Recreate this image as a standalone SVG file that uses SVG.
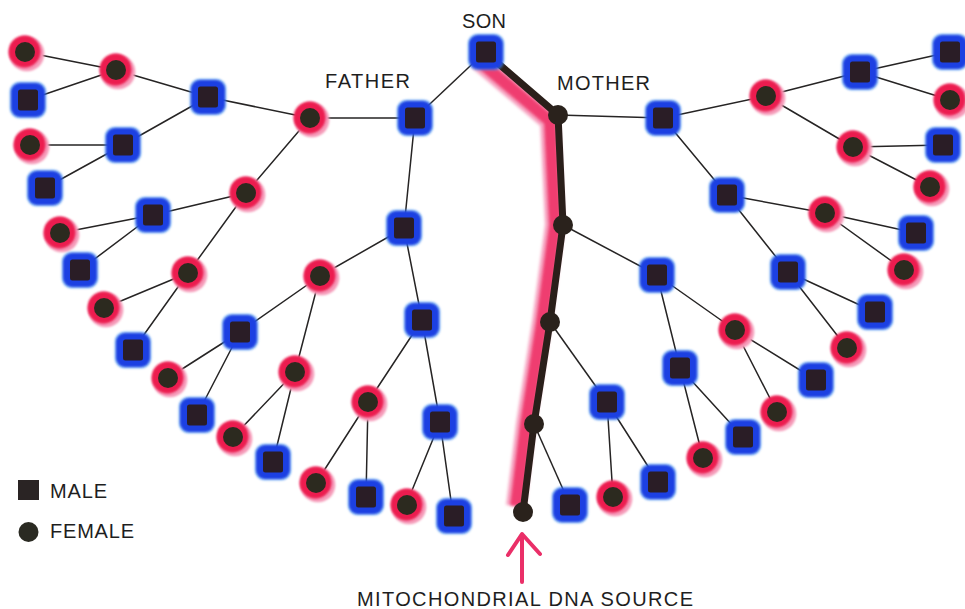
<svg xmlns="http://www.w3.org/2000/svg" xmlns:xlink="http://www.w3.org/1999/xlink" width="965" height="609" viewBox="0 0 965 609">
<style>
.lbl{font-family:"Liberation Sans",Arial,sans-serif;font-size:20px;fill:#1e1e1e}
.ln{fill:none;stroke:#262424;stroke-width:1.5;stroke-linejoin:round}
</style>
<defs>
<filter id="soft" x="-50%" y="-50%" width="200%" height="200%"><feGaussianBlur stdDeviation="0.9"/></filter>
<filter id="soft2" x="-20%" y="-20%" width="140%" height="140%"><feGaussianBlur stdDeviation="1.5"/></filter>
<g id="M">
<rect x="-18.5" y="-18.5" width="37" height="37" rx="10" fill="#4a98f2" opacity="0.55" filter="url(#soft)"/>
<rect x="-17" y="-17" width="34" height="34" rx="9" fill="#1a40e2" filter="url(#soft)"/>
<rect x="-10" y="-10.5" width="20" height="21" rx="2.5" fill="#2a1d26"/>
</g>
<g id="F">
<circle cx="1.8" cy="1.8" r="17.5" fill="#f59ab8" filter="url(#soft)"/>
<circle cx="-0.5" cy="-0.5" r="16" fill="#ec1b4f" filter="url(#soft)"/>
<circle r="10" fill="#2c2a1f"/>
</g>
<g id="Fm">
<circle r="10" fill="#2a221c"/>
</g>
</defs>
<rect width="965" height="609" fill="#ffffff"/>

<g id="mtdna-line">
<polyline points="478,60 550,121 555,225 542,322 526,424 516,506" fill="none" stroke="#f7a6c2" stroke-width="20" stroke-linejoin="round" filter="url(#soft2)"/>
<polyline points="478,60 550,121 555,225 542,322 526,424 516,506" fill="none" stroke="#ef3d70" stroke-width="12" stroke-linejoin="round" filter="url(#soft2)"/>
</g>

<g id="connectors">
<path class="ln" d="M485,52 L415,118"/>
<path class="ln" d="M310,118 L415,118 L404,228"/>
<path class="ln" d="M208,97 L310,118 L246,193"/>
<path class="ln" d="M320,276 L404,228 L422,320"/>
<path class="ln" d="M116,70 L208,97 L123,145"/>
<path class="ln" d="M153,215 L246,193 L188,273"/>
<path class="ln" d="M240,332 L320,276 L295,372"/>
<path class="ln" d="M368,402 L422,320 L440,422"/>
<path class="ln" d="M25,52 L116,70 L28,100"/>
<path class="ln" d="M30,145 L123,145 L45,188"/>
<path class="ln" d="M60,233 L153,215 L80,270"/>
<path class="ln" d="M104,308 L188,273 L133,350"/>
<path class="ln" d="M168,378 L240,332 L197,415"/>
<path class="ln" d="M233,437 L295,372 L273,462"/>
<path class="ln" d="M316,483 L368,402 L366,497"/>
<path class="ln" d="M406,505 L440,422 L453,515"/>
<path class="ln" d="M558,115 L663,118"/>
<path class="ln" d="M766,96 L663,118 L727,195"/>
<path class="ln" d="M563,225 L657,275"/>
<path class="ln" d="M550,322 L607,402"/>
<path class="ln" d="M534,424 L570,505"/>
<path class="ln" d="M860,72 L766,96 L853,147"/>
<path class="ln" d="M825,213 L727,195 L788,272"/>
<path class="ln" d="M735,330 L657,275 L680,368"/>
<path class="ln" d="M950,52 L860,72 L950,100"/>
<path class="ln" d="M943,145 L853,147 L930,187"/>
<path class="ln" d="M916,233 L825,213 L904,270"/>
<path class="ln" d="M875,312 L788,272 L847,348"/>
<path class="ln" d="M816,380 L735,330 L777,412"/>
<path class="ln" d="M743,437 L680,368 L703,458"/>
<path class="ln" d="M658,482 L607,402 L613,497"/>
<polyline points="485,52 558,115 563,225 550,322 534,424 523,512" fill="none" stroke="#2a1f1a" stroke-width="7" stroke-linejoin="round"/>
</g>

<g id="son"><use xlink:href="#M" x="486" y="52"/></g>
<g id="father"><use xlink:href="#M" x="415" y="118"/></g>
<g id="mother"><use xlink:href="#Fm" x="558" y="115"/></g>

<g id="p-310-118"><use xlink:href="#F" x="310" y="118"/></g>
<g id="p-404-228"><use xlink:href="#M" x="404" y="228"/></g>
<g id="p-208-97"><use xlink:href="#M" x="208" y="97"/></g>
<g id="p-246-193"><use xlink:href="#F" x="246" y="193"/></g>
<g id="p-320-276"><use xlink:href="#F" x="320" y="276"/></g>
<g id="p-422-320"><use xlink:href="#M" x="422" y="320"/></g>
<g id="p-116-70"><use xlink:href="#F" x="116" y="70"/></g>
<g id="p-123-145"><use xlink:href="#M" x="123" y="145"/></g>
<g id="p-153-215"><use xlink:href="#M" x="153" y="215"/></g>
<g id="p-188-273"><use xlink:href="#F" x="188" y="273"/></g>
<g id="p-240-332"><use xlink:href="#M" x="240" y="332"/></g>
<g id="p-295-372"><use xlink:href="#F" x="295" y="372"/></g>
<g id="p-368-402"><use xlink:href="#F" x="368" y="402"/></g>
<g id="p-440-422"><use xlink:href="#M" x="440" y="422"/></g>
<g id="p-25-52"><use xlink:href="#F" x="25" y="52"/></g>
<g id="p-28-100"><use xlink:href="#M" x="28" y="100"/></g>
<g id="p-30-145"><use xlink:href="#F" x="30" y="145"/></g>
<g id="p-45-188"><use xlink:href="#M" x="45" y="188"/></g>
<g id="p-60-233"><use xlink:href="#F" x="60" y="233"/></g>
<g id="p-80-270"><use xlink:href="#M" x="80" y="270"/></g>
<g id="p-104-308"><use xlink:href="#F" x="104" y="308"/></g>
<g id="p-133-350"><use xlink:href="#M" x="133" y="350"/></g>
<g id="p-168-378"><use xlink:href="#F" x="168" y="378"/></g>
<g id="p-197-415"><use xlink:href="#M" x="197" y="415"/></g>
<g id="p-233-437"><use xlink:href="#F" x="233" y="437"/></g>
<g id="p-273-462"><use xlink:href="#M" x="273" y="462"/></g>
<g id="p-316-483"><use xlink:href="#F" x="316" y="483"/></g>
<g id="p-366-497"><use xlink:href="#M" x="366" y="497"/></g>
<g id="p-406-505"><use xlink:href="#F" x="407" y="505"/></g>
<g id="p-453-515"><use xlink:href="#M" x="454" y="516"/></g>

<g id="p-663-118"><use xlink:href="#M" x="663" y="118"/></g>
<g id="p-563-225"><use xlink:href="#Fm" x="563" y="225"/></g>
<g id="p-766-96"><use xlink:href="#F" x="766" y="96"/></g>
<g id="p-727-195"><use xlink:href="#M" x="727" y="195"/></g>
<g id="p-657-275"><use xlink:href="#M" x="657" y="275"/></g>
<g id="p-550-322"><use xlink:href="#Fm" x="550" y="322"/></g>
<g id="p-860-72"><use xlink:href="#M" x="860" y="72"/></g>
<g id="p-853-147"><use xlink:href="#F" x="853" y="147"/></g>
<g id="p-825-213"><use xlink:href="#F" x="825" y="213"/></g>
<g id="p-788-272"><use xlink:href="#M" x="788" y="272"/></g>
<g id="p-735-330"><use xlink:href="#F" x="735" y="330"/></g>
<g id="p-680-368"><use xlink:href="#M" x="680" y="368"/></g>
<g id="p-607-402"><use xlink:href="#M" x="607" y="402"/></g>
<g id="p-534-424"><use xlink:href="#Fm" x="534" y="424"/></g>
<g id="p-950-52"><use xlink:href="#M" x="950" y="52"/></g>
<g id="p-950-100"><use xlink:href="#F" x="950" y="100"/></g>
<g id="p-943-145"><use xlink:href="#M" x="943" y="145"/></g>
<g id="p-930-187"><use xlink:href="#F" x="930" y="187"/></g>
<g id="p-916-233"><use xlink:href="#M" x="916" y="233"/></g>
<g id="p-904-270"><use xlink:href="#F" x="904" y="270"/></g>
<g id="p-875-312"><use xlink:href="#M" x="875" y="312"/></g>
<g id="p-847-348"><use xlink:href="#F" x="847" y="348"/></g>
<g id="p-816-380"><use xlink:href="#M" x="816" y="380"/></g>
<g id="p-777-412"><use xlink:href="#F" x="777" y="412"/></g>
<g id="p-743-437"><use xlink:href="#M" x="743" y="437"/></g>
<g id="p-703-458"><use xlink:href="#F" x="703" y="458"/></g>
<g id="p-658-482"><use xlink:href="#M" x="658" y="482"/></g>
<g id="p-613-497"><use xlink:href="#F" x="613" y="497"/></g>
<g id="p-570-505"><use xlink:href="#M" x="570" y="505"/></g>
<g id="mtdna-source"><use xlink:href="#Fm" x="523" y="512"/></g>

<g id="labels">
<text class="lbl" x="462" y="28" textLength="44" lengthAdjust="spacing">SON</text>
<text class="lbl" x="325" y="88" textLength="85" lengthAdjust="spacing">FATHER</text>
<text class="lbl" x="557" y="90" textLength="93" lengthAdjust="spacing">MOTHER</text>
<text class="lbl" x="357" y="606" textLength="336" lengthAdjust="spacing">MITOCHONDRIAL DNA SOURCE</text>
</g>

<g id="arrow" fill="none" stroke="#ea2f68" stroke-width="4" stroke-linecap="round" stroke-linejoin="round">
<path d="M522,582 L522,536"/>
<path d="M508,555 L522,534 L540,554"/>
</g>

<g id="legend">
<rect x="18" y="480" width="21" height="20" fill="#2a2424"/>
<text class="lbl" x="50" y="498" textLength="57" lengthAdjust="spacing">MALE</text>
<circle cx="28.5" cy="532" r="10" fill="#2a2a22"/>
<text class="lbl" x="50" y="538" textLength="84" lengthAdjust="spacing">FEMALE</text>
</g>
</svg>
